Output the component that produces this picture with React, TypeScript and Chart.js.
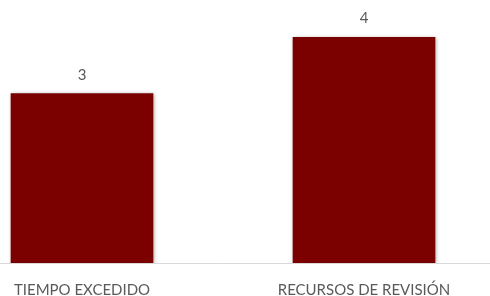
import React, { useEffect, useRef } from "react";
import { Chart, registerables } from "chart.js";

Chart.register(...registerables);

const categories = ["TIEMPO EXCEDIDO", "RECURSOS DE REVISIÓN"];
const values = [3, 4];

const BAR_COLOR = "#7B0000";
const TEXT_COLOR = "#595959";
const FONT = "Lato, 'Open Sans', sans-serif";

const shadowPlugin = {
  id: "barShadow",
  beforeDatasetsDraw(chart: any) {
    const ctx = chart.ctx;
    ctx.save();
    ctx.shadowColor = "rgba(0,0,0,0.35)";
    ctx.shadowBlur = 4;
    ctx.shadowOffsetX = 1;
    ctx.shadowOffsetY = 1;
  },
  afterDatasetsDraw(chart: any) {
    chart.ctx.restore();
  },
};

const labelPlugin = {
  id: "valueLabels",
  afterDraw(chart: any) {
    const ctx = chart.ctx;
    const meta = chart.getDatasetMeta(0);
    ctx.save();
    ctx.fillStyle = TEXT_COLOR;
    ctx.font = `15px ${FONT}`;
    ctx.textAlign = "center";
    ctx.textBaseline = "middle";
    meta.data.forEach((bar: any, i: number) => {
      ctx.fillText(String(values[i]), bar.x, bar.y - 19);
    });
    ctx.restore();
  },
};

export default function App() {
  const ref = useRef<HTMLCanvasElement>(null);
  useEffect(() => {
    if (!ref.current) return;
    const chart = new Chart(ref.current, {
      type: "bar",
      data: {
        labels: categories,
        datasets: [
          {
            data: values,
            backgroundColor: BAR_COLOR,
            barThickness: 142,
            borderWidth: 0,
          },
        ],
      },
      options: {
        animation: false,
        responsive: true,
        maintainAspectRatio: false,
        layout: { padding: { top: 9, left: 0, right: 0, bottom: 0 } },
        plugins: { legend: { display: false }, tooltip: { enabled: false } },
        scales: {
          x: {
            grid: { display: false },
            border: { display: true, color: "#D9D9D9", width: 1 },
            ticks: {
              color: TEXT_COLOR,
              font: { family: FONT, size: 15 },
              padding: 10,
              maxRotation: 0,
              autoSkip: false,
            },
          },
          y: { display: false, min: 0, max: 4.5 },
        },
      },
      plugins: [shadowPlugin, labelPlugin],
    });
    return () => chart.destroy();
  }, []);
  return (
    <div style={{ position: "fixed", left: 0, top: 0, width: 490, height: 296, overflow: "hidden", background: "#fff" }}>
      <div style={{ position: "absolute", left: -59, top: 0, width: 564, height: 309 }}>
        <canvas ref={ref} />
      </div>
    </div>
  );
}
